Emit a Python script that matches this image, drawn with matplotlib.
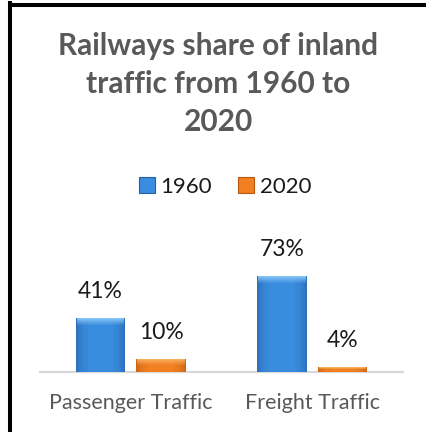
import numpy as np
import matplotlib
matplotlib.use("Agg")
import matplotlib.pyplot as plt
from matplotlib.patches import Rectangle
from matplotlib.lines import Line2D

# Data
categories = ["Passenger Traffic", "Freight Traffic"]
series_names = ["1960", "2020"]
share_1960 = [41, 73]
share_2020 = [10, 4]
title = "Railways share of inland\ntraffic from 1960 to\n2020"

FONT = "Lato"
plt.rcParams["font.family"] = [FONT, "DejaVu Sans"]

W_PX, H_PX, DPI = 427, 432, 100
fig = plt.figure(figsize=(W_PX / DPI, H_PX / DPI), dpi=DPI)

# Axes placed in pixel terms
ax_left, ax_right = 40, 403
ax_bottom_px, ax_top_px = 372, 240
ax = fig.add_axes([ax_left / W_PX, (H_PX - ax_bottom_px) / H_PX,
                   (ax_right - ax_left) / W_PX, (ax_bottom_px - ax_top_px) / H_PX])
ax.set_xlim(-0.5, 1.5)
ax.set_ylim(0, 100)
ax.axis("off")

palette = {
    "1960": {"base": "#3a8cde", "light": "#8ccbfa", "dark": "#2460a5"},
    "2020": {"base": "#f08020", "light": "#fab264", "dark": "#b85810"},
}

bar_w = 0.273
offset = 0.167
x = np.arange(len(categories))

# data units per pixel
ux = 2.0 / (ax_right - ax_left)
uy = 100.0 / (ax_bottom_px - ax_top_px)


def shade_bar(b, cols):
    left, w, h = b.get_x(), b.get_width(), b.get_height()
    # darker vertical bands toward the sides
    n = 12
    for i in range(n):
        t = i / (n - 1)
        a = 0.55 * (1 - t) ** 2 + 0.08
        for xs in (left + i * ux, left + w - (i + 1) * ux):
            ax.add_patch(Rectangle((xs, 0), ux, h, facecolor=cols["dark"],
                                   alpha=a, lw=0, antialiased=False, zorder=4))
    # bright bevel at the top
    bev = int(min(7, max((h / uy) // 2, 1)))
    for i in range(bev):
        a = 0.9 * (1 - i / bev)
        ax.add_patch(Rectangle((left + ux, h - (i + 1) * uy), w - 2 * ux, uy,
                               facecolor=cols["light"], alpha=a, lw=0,
                               antialiased=False, zorder=5))


for vals, name, sign in [(share_1960, "1960", -1), (share_2020, "2020", 1)]:
    pos = x + sign * offset
    bars = ax.bar(pos, vals, width=bar_w, color=palette[name]["base"],
                  edgecolor="none", zorder=3)
    for b, xi, v in zip(bars, pos, vals):
        shade_bar(b, palette[name])
        ax.annotate(f"{v}%", xy=(xi, v), xytext=(0, 18.7),
                    textcoords="offset points", ha="center", va="center",
                    fontsize=16.5, color="#1a1a1a", annotation_clip=False)

# baseline
ax.axhline(0, color="#d9d9d9", lw=1.6, zorder=2, clip_on=False)

# category labels
for xi, c in zip(x, categories):
    ax.annotate(c, xy=(xi, 0), xytext=(0, -22.3), textcoords="offset points",
                ha="center", va="center", fontsize=15.5, color="#595959",
                annotation_clip=False)

# title
fig.text(0.5 * (W_PX + 10) / W_PX, 1 - 84 / H_PX, title, ha="center", va="center",
         fontsize=21.5, fontweight="bold", color="#595959", linespacing=1.45)

# legend
handles = [Rectangle((0, 0), 1, 1, facecolor=palette[n]["base"],
                     edgecolor=palette[n]["dark"], lw=0.8) for n in series_names]
fig.legend(handles, series_names, loc="center", ncol=2,
           bbox_to_anchor=(225 / W_PX, 1 - 187 / H_PX), frameon=False,
           fontsize=16, handlelength=0.7, handleheight=0.7,
           handletextpad=0.25, columnspacing=1.2, labelcolor="#1a1a1a")

# frame lines on left and top
fig.add_artist(Line2D([10 / W_PX, 10 / W_PX], [0, 1 - 3 / H_PX], transform=fig.transFigure,
                      color="black", lw=2.9, solid_capstyle="projecting"))
fig.add_artist(Line2D([10 / W_PX, 1], [1 - 5 / H_PX, 1 - 5 / H_PX], transform=fig.transFigure,
                      color="black", lw=2.9, solid_capstyle="butt"))

fig.savefig("out.png", dpi=DPI)
